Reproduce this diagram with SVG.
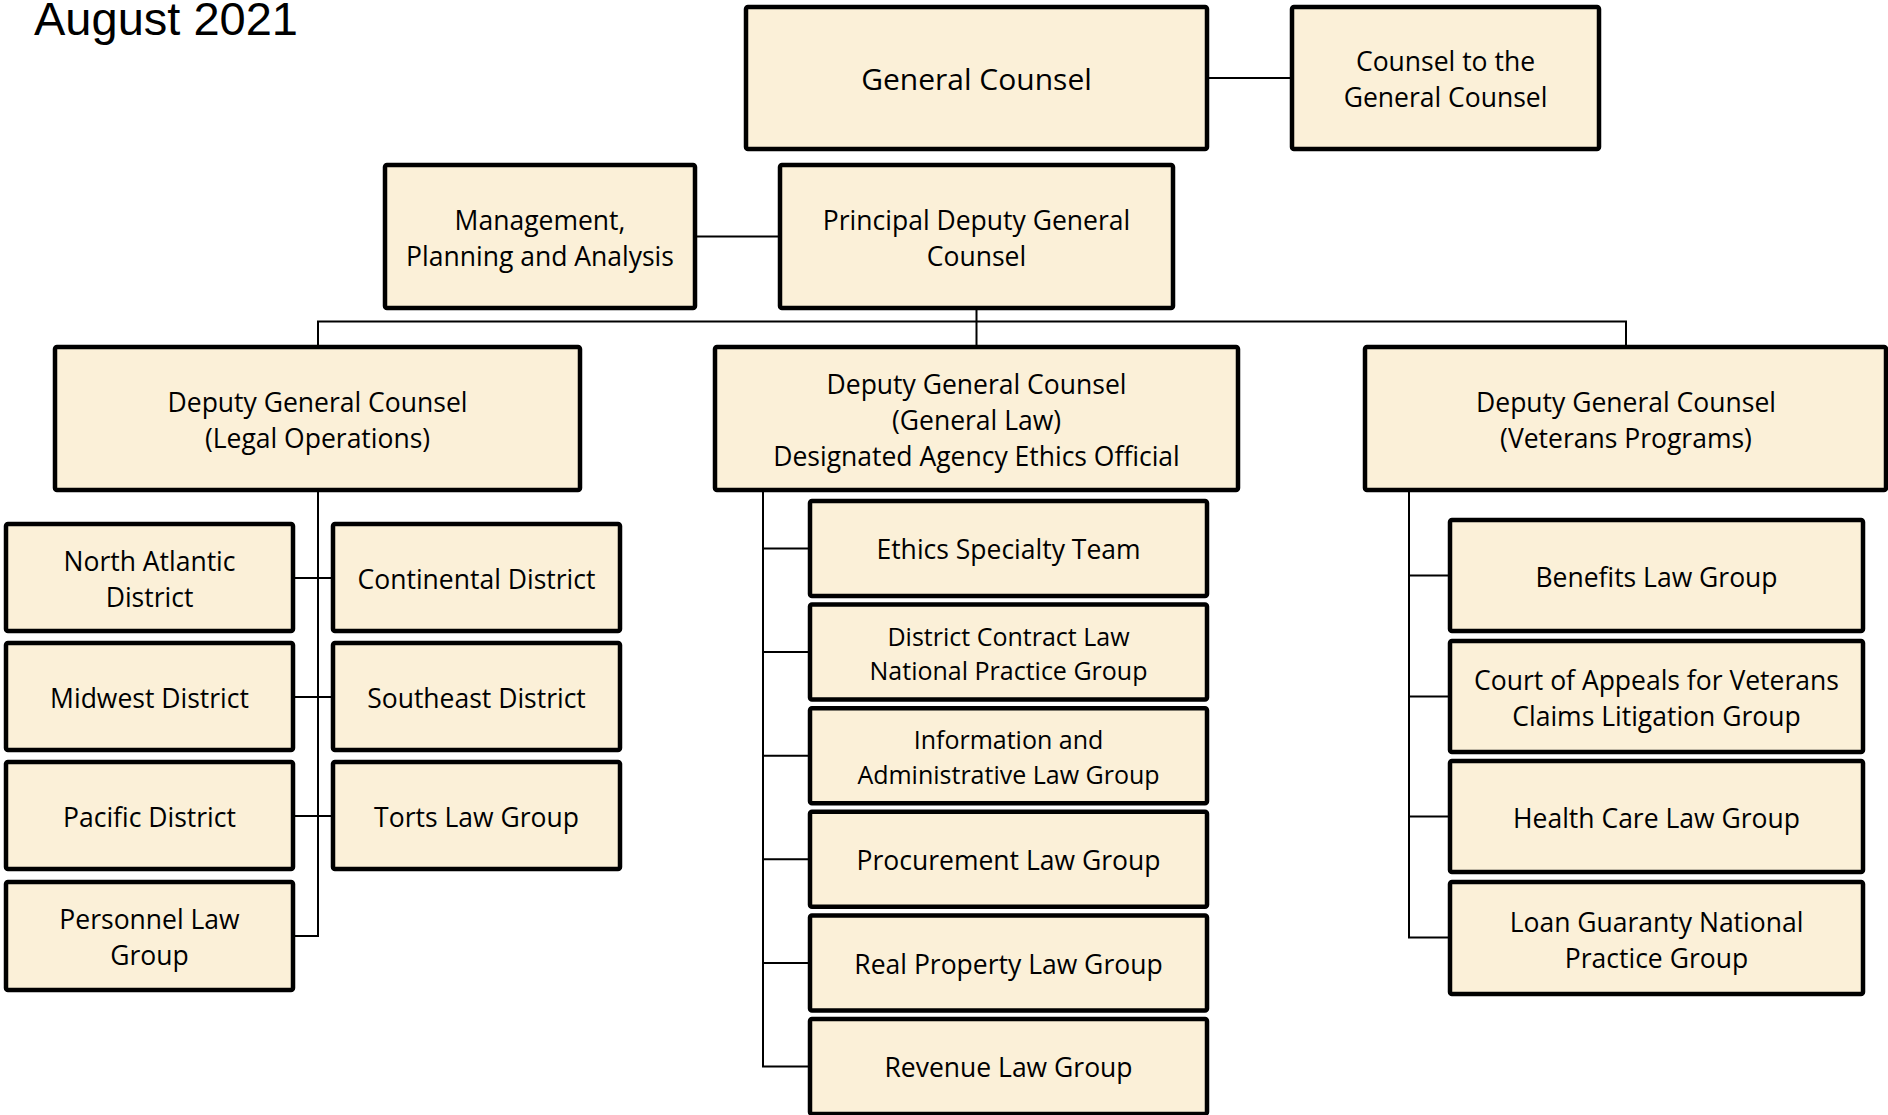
<svg xmlns="http://www.w3.org/2000/svg" width="1888" height="1115" viewBox="0 0 1888 1115">
<style>
.box{fill:#FBF0D8;stroke:#000;stroke-width:4.5}
.t{font-family:"Open Sans","Noto Sans",sans-serif;font-size:26.5px;fill:#000;text-anchor:middle}
.s{font-size:25px}
.big{font-size:30px}
.ln{stroke:#000;stroke-width:2;fill:none}
.title{font-family:"Liberation Sans",Arial,sans-serif;font-size:47px;fill:#000}
</style>
<rect width="1888" height="1115" fill="#fff"/>
<text class="title" x="34" y="35">August 2021</text>
<g id="connectors">
<path class="ln" d="M1207 78H1292"/>
<path class="ln" d="M695 236.5H780"/>
<path class="ln" d="M976.5 308V347M318 347V321.5H1626V347"/>
<path class="ln" d="M318 490V936H293M293 578H333M293 697H333M293 816H333"/>
<path class="ln" d="M763 490V1066.5H810M763 548.5H810M763 652H810M763 755.7H810M763 859.3H810M763 963H810"/>
<path class="ln" d="M1409 490V937.5H1450M1409 575.5H1450M1409 696.5H1450M1409 816.5H1450"/>
</g>
<g id="gc"><rect class="box" x="746" y="7" width="461" height="142" rx="2"/><text class="t big" x="976.5" y="89.5">General Counsel</text></g>
<g id="cgc"><rect class="box" x="1292" y="7" width="307" height="142" rx="2"/><text class="t" x="1445.5" y="70.5">Counsel to the</text><text class="t" x="1445.5" y="106.5">General Counsel</text></g>
<g id="mpa"><rect class="box" x="385" y="165" width="310" height="143" rx="2"/><text class="t" x="540" y="229.5">Management,</text><text class="t" x="540" y="265.5">Planning and Analysis</text></g>
<g id="pdgc"><rect class="box" x="780" y="165" width="393" height="143" rx="2"/><text class="t" x="976.5" y="229.5">Principal Deputy General</text><text class="t" x="976.5" y="265.5">Counsel</text></g>
<g id="dgc-lo"><rect class="box" x="55" y="347" width="525" height="143" rx="2"/><text class="t" x="317.5" y="411.5">Deputy General Counsel</text><text class="t" x="317.5" y="447.5">(Legal Operations)</text></g>
<g id="dgc-gl"><rect class="box" x="715" y="347" width="523" height="143" rx="2"/><text class="t" x="976.5" y="393.5">Deputy General Counsel</text><text class="t" x="976.5" y="429.5">(General Law)</text><text class="t" x="976.5" y="465.5">Designated Agency Ethics Official</text></g>
<g id="dgc-vp"><rect class="box" x="1365" y="347" width="521" height="143" rx="2"/><text class="t" x="1626" y="411.5">Deputy General Counsel</text><text class="t" x="1626" y="447.5">(Veterans Programs)</text></g>
<g id="north-atlantic"><rect class="box" x="6" y="524" width="287" height="107" rx="2"/><text class="t" x="149.5" y="570.5">North Atlantic</text><text class="t" x="149.5" y="606.5">District</text></g>
<g id="continental"><rect class="box" x="333" y="524" width="287" height="107" rx="2"/><text class="t" x="476.5" y="588.5">Continental District</text></g>
<g id="midwest"><rect class="box" x="6" y="643" width="287" height="107" rx="2"/><text class="t" x="149.5" y="707.5">Midwest District</text></g>
<g id="southeast"><rect class="box" x="333" y="643" width="287" height="107" rx="2"/><text class="t" x="476.5" y="707.5">Southeast District</text></g>
<g id="pacific"><rect class="box" x="6" y="762" width="287" height="107" rx="2"/><text class="t" x="149.5" y="826.5">Pacific District</text></g>
<g id="torts"><rect class="box" x="333" y="762" width="287" height="107" rx="2"/><text class="t" x="476.5" y="826.5">Torts Law Group</text></g>
<g id="personnel"><rect class="box" x="6" y="882" width="287" height="108" rx="2"/><text class="t" x="149.5" y="928.5">Personnel Law</text><text class="t" x="149.5" y="964.5">Group</text></g>
<g id="ethics"><rect class="box" x="810" y="501" width="397" height="95" rx="2"/><text class="t" x="1008.5" y="559">Ethics Specialty Team</text></g>
<g id="district-contract"><rect class="box" x="810" y="604.6" width="397" height="95" rx="2"/><text class="t s" x="1008.5" y="645.5">District Contract Law</text><text class="t s" x="1008.5" y="679.5">National Practice Group</text></g>
<g id="info-admin"><rect class="box" x="810" y="708.2" width="397" height="95" rx="2"/><text class="t s" x="1008.5" y="748.5">Information and</text><text class="t s" x="1008.5" y="783.5">Administrative Law Group</text></g>
<g id="procurement"><rect class="box" x="810" y="811.8" width="397" height="95" rx="2"/><text class="t" x="1008.5" y="870">Procurement Law Group</text></g>
<g id="real-property"><rect class="box" x="810" y="915.4" width="397" height="95" rx="2"/><text class="t" x="1008.5" y="973.5">Real Property Law Group</text></g>
<g id="revenue"><rect class="box" x="810" y="1019" width="397" height="95" rx="2"/><text class="t" x="1008.5" y="1077">Revenue Law Group</text></g>
<g id="benefits"><rect class="box" x="1450" y="520" width="413" height="111" rx="2"/><text class="t" x="1656.5" y="586.5">Benefits Law Group</text></g>
<g id="cavc"><rect class="box" x="1450" y="641" width="413" height="111" rx="2"/><text class="t" x="1656.5" y="689.5">Court of Appeals for Veterans</text><text class="t" x="1656.5" y="725.5">Claims Litigation Group</text></g>
<g id="health-care"><rect class="box" x="1450" y="761" width="413" height="111" rx="2"/><text class="t" x="1656.5" y="827.5">Health Care Law Group</text></g>
<g id="loan-guaranty"><rect class="box" x="1450" y="882" width="413" height="112" rx="2"/><text class="t" x="1656.5" y="931.5">Loan Guaranty National</text><text class="t" x="1656.5" y="967.5">Practice Group</text></g>
</svg>
